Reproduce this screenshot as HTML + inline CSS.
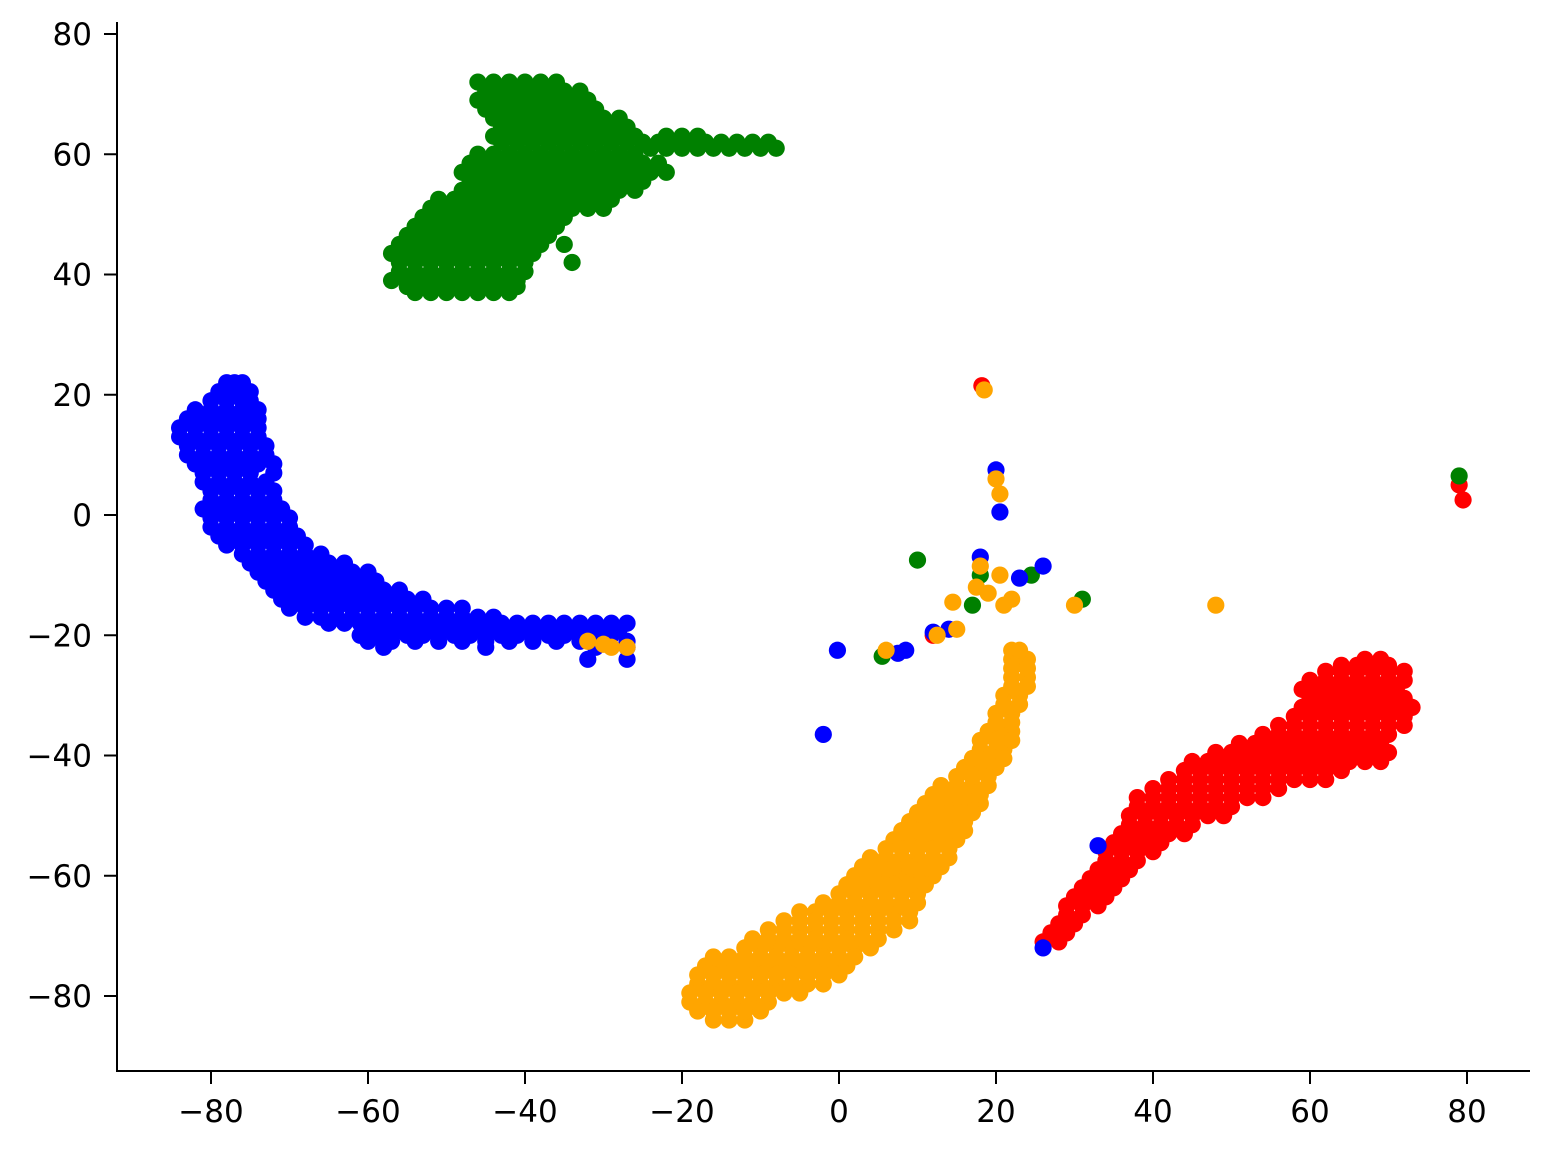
<!DOCTYPE html>
<html><head><meta charset="utf-8"><style>
html,body{margin:0;padding:0;background:#fff;}
svg text{font-family:"DejaVu Sans","Liberation Sans",sans-serif;font-size:31px;fill:#000;}
</style></head><body>
<svg id="chart" width="1550" height="1149" xmlns="http://www.w3.org/2000/svg">
<g id="marks"></g>
<g id="axes"></g>
</svg>
<script>
const xTicks=[-80,-60,-40,-20,0,20,40,60,80];
const yTicks=[-80,-60,-40,-20,0,20,40,60,80];
const redRows=[[-71,[26,28]],[-68,[28,30]],[-65,[29,31,33]],[-62,[31,33,35]],[-59,[33,35,37]],[-56,[34,36,38,40]],[-53,[36,38,40,42,44]],[-50,[37,39,41,43,45,47,49]],[-47,[38,40,42,44,46,48,50,52,54]],[-44,[42,44,46,48,50,52,54,56,58,60,62]],[-41,[45,47,49,51,53,55,57,59,61,63,65,67,69]],[-38,[51,53,55,57,59,61,63,65,67,69]],[-35,[56,58,60,62,64,66,68,70,72]],[-32,[59,61,63,65,67,69,71,73]],[-29,[59,61,63,65,67,69,71]],[-26,[62,64,66,68,70,72]],[-24,[67,69]],
[-69.5,[27,29]],[-66.5,[29,31]],[-63.5,[30,32,34]],[-60.5,[32,34,36]],[-57.5,[34,36,38]],[-54.5,[35,37,39,41]],[-51.5,[37,39,41,43,45]],[-48.5,[38,40,42,44,46,48,50]],[-45.5,[40,42,44,46,48,50,52,54,56]],[-42.5,[44,46,48,50,52,54,56,58,60,62,64]],[-39.5,[48,50,52,54,56,58,60,62,64,66,68,70]],[-36.5,[54,56,58,60,62,64,66,68,70]],[-33.5,[58,60,62,64,66,68,70,72]],[-30.5,[60,62,64,66,68,70,72]],[-27.5,[60,62,64,66,68,70,72]],[-25,[64,66,68,70]]];
const greenRows=[[72,[-46,-44,-42,-40,-38,-36]],[69,[-46,-44,-42,-40,-38,-36,-34,-32]],[66,[-44,-42,-40,-38,-36,-34,-32,-30,-28]],[63,[-44,-42,-40,-38,-36,-34,-32,-30,-28,-26,-22,-20,-18]],[61,[-24,-22,-20,-18,-16,-14,-12,-10,-8]],[60,[-46,-44,-42,-40,-38,-36,-34,-32,-30,-28,-26]],[57,[-48,-46,-44,-42,-40,-38,-36,-34,-32,-30,-28,-26,-24,-22]],[54,[-48,-46,-44,-42,-40,-38,-36,-34,-32,-30,-28,-26]],[51,[-52,-50,-48,-46,-44,-42,-40,-38,-36,-34,-32,-30]],[48,[-54,-52,-50,-48,-46,-44,-42,-40,-38,-36]],[45,[-56,-54,-52,-50,-48,-46,-44,-42,-40,-38,-35]],[42,[-56,-54,-52,-50,-48,-46,-44,-42,-40,-34]],[39,[-57,-55,-53,-51,-49,-47,-45,-43,-41]],[37,[-54,-52,-50,-48,-46,-44,-42]],
[70.5,[-45,-43,-41,-39,-37,-35,-33]],[67.5,[-45,-43,-41,-39,-37,-35,-33,-31]],[64.5,[-43,-41,-39,-37,-35,-33,-31,-29,-27]],[62,[-43,-41,-39,-37,-35,-33,-31,-29,-27,-25,-23,-21,-19,-17,-15,-13,-11,-9]],[58.5,[-47,-45,-43,-41,-39,-37,-35,-33,-31,-29,-27,-25,-23]],[55.5,[-47,-45,-43,-41,-39,-37,-35,-33,-31,-29,-27,-25]],[52.5,[-51,-49,-47,-45,-43,-41,-39,-37,-35,-33,-31,-29]],[49.5,[-53,-51,-49,-47,-45,-43,-41,-39,-37,-35]],[46.5,[-55,-53,-51,-49,-47,-45,-43,-41,-39,-37]],[43.5,[-57,-55,-53,-51,-49,-47,-45,-43,-41,-39]],[40.5,[-56,-54,-52,-50,-48,-46,-44,-42,-40]],[38,[-55,-53,-51,-49,-47,-45,-43,-41]]];
const blueRows=[[22,[-78,-77,-76]],[19,[-80,-78,-76,-75]],[16,[-83,-81,-79,-77,-75,-74]],[13,[-84,-82,-80,-78,-76,-74]],[10,[-83,-81,-79,-77,-75,-73]],[7,[-81,-79,-77,-75,-72]],[4,[-80,-78,-76,-74,-72]],[1,[-81,-79,-77,-75,-73,-71]],[-2,[-80,-78,-76,-74,-72,-70]],[-5,[-78,-76,-74,-72,-70,-68]],[-8,[-75,-73,-71,-69,-67,-65,-63]],[-11,[-73,-71,-69,-67,-65,-63,-61,-59]],[-14,[-71,-69,-67,-65,-63,-61,-59,-57,-55,-53]],[-17,[-68,-66,-64,-62,-60,-58,-56,-54,-52,-50,-48,-46,-44]],[-19,[-60,-58,-56,-54,-52,-50,-48,-46,-44,-42,-40,-38,-36,-34,-32,-30,-28]],[-21,[-60,-57,-54,-51,-48,-45,-42,-39,-36,-33,-30,-27]],[-22,[-58,-45,-31,-27]],
[20.5,[-79,-77,-75]],[17.5,[-82,-80,-78,-76,-74]],[14.5,[-84,-82,-80,-78,-76,-74]],[11.5,[-83,-81,-79,-77,-75,-73]],[8.5,[-82,-80,-78,-76,-74,-72]],[5.5,[-81,-79,-77,-75,-73]],[2.5,[-80,-78,-76,-74,-72]],[-0.5,[-80,-78,-76,-74,-72,-70]],[-3.5,[-79,-77,-75,-73,-71,-69]],[-6.5,[-76,-74,-72,-70,-68,-66]],[-9.5,[-74,-72,-70,-68,-66,-64,-62,-60]],[-12.5,[-72,-70,-68,-66,-64,-62,-60,-58,-56]],[-15.5,[-70,-68,-66,-64,-62,-60,-58,-56,-54,-52,-50,-48]],[-18,[-65,-63,-61,-59,-57,-55,-53,-51,-49,-47,-45,-43,-41,-39,-37,-35,-33,-31,-29,-27]],[-20,[-61,-59,-57,-55,-53,-51,-49,-47,-45,-43,-41,-39,-37,-35,-33,-31,-29]]];
const orangeRows=[[-84,[-16,-14,-12]],[-81,[-19,-17,-15,-13,-11,-9]],[-78,[-18,-16,-14,-12,-10,-8,-6,-4,-2]],[-75,[-17,-15,-13,-11,-9,-7,-5,-3,-1,1]],[-72,[-12,-10,-8,-6,-4,-2,0,2,4]],[-69,[-9,-7,-5,-3,-1,1,3,5,7]],[-66,[-5,-3,-1,1,3,5,7,9]],[-63,[0,2,4,6,8,10]],[-60,[2,4,6,8,10,12]],[-57,[4,6,8,10,12,14]],[-54,[7,9,11,13,15]],[-51,[9,11,13,15,16]],[-48,[11,13,15,17,18]],[-45,[13,15,17,19]],[-42,[16,18,20]],[-39,[18,20,21]],[-36,[19,21,22]],[-33,[20,22]],[-30,[21,23]],[-27,[22,24]],[-24,[22,23,24]],
[-82.5,[-18,-16,-14,-12,-10]],[-79.5,[-19,-17,-15,-13,-11,-9,-7,-5]],[-76.5,[-18,-16,-14,-12,-10,-8,-6,-4,-2,0]],[-73.5,[-16,-14,-12,-10,-8,-6,-4,-2,0,2]],[-70.5,[-11,-9,-7,-5,-3,-1,1,3,5]],[-67.5,[-7,-5,-3,-1,1,3,5,7,9]],[-64.5,[-2,0,2,4,6,8,10]],[-61.5,[1,3,5,7,9,11]],[-58.5,[3,5,7,9,11,13]],[-55.5,[6,8,10,12,14]],[-52.5,[8,10,12,14,16]],[-49.5,[10,12,14,16,17]],[-46.5,[12,14,16,18]],[-43.5,[15,17,19]],[-40.5,[17,19,21]],[-37.5,[18,20,22]],[-34.5,[20,22]],[-31.5,[21,23]],[-28.5,[22,24]],[-25.5,[22,24]],[-22.5,[22,23]]];
const redOut=[[18.2,21.5],[79,5],[79.5,2.5],[12,-20]];
const greenOut=[[10,-7.5],[18,-10],[17,-15],[24.5,-10],[31,-14],[5.5,-23.5],[79,6.5]];
const blueOut=[[20,7.5],[20.5,0.5],[18,-7],[26,-8.5],[23,-10.5],[12,-19.5],[14,-19],[-0.2,-22.5],[8.5,-22.5],[7.5,-23],[-2,-36.5],[33,-55],[26,-72],[-32,-24],[-27,-24]];
const orangeOut=[[18.5,20.8],[20,6],[20.5,3.5],[18,-8.5],[17.5,-12],[19,-13],[20.5,-10],[21,-15],[22,-14],[15,-19],[14.5,-14.5],[12.5,-20],[30,-15],[48,-15],[6,-22.5],[-32,-21],[-29,-22],[-27,-22],[-30,-21.5]];

const NS='http://www.w3.org/2000/svg';
const xS=v=>839+v*7.85;
const yS=v=>515-v*6.0125;
const marks=document.getElementById('marks');
const axes=document.getElementById('axes');
function dot(x,y,c,name){
  const e=document.createElementNS(NS,'circle');
  e.setAttribute('cx',xS(x));e.setAttribute('cy',yS(y));e.setAttribute('r',8.6);e.setAttribute('fill',c);
  
  
  marks.appendChild(e);
}
function series(rows,out,c,name){
  rows.forEach(r=>r[1].forEach(x=>dot(x,r[0],c,name)));
  out.forEach(p=>dot(p[0],p[1],c,name));
}
series(redRows,redOut,'#ff0000','red-point');
series(greenRows,greenOut,'#008000','green-point');
series(blueRows,blueOut,'#0000ff','blue-point');
series(orangeRows,orangeOut,'#ffa500','orange-point');

function line(x1,y1,x2,y2,name){
  const l=document.createElementNS(NS,'line');
  l.setAttribute('x1',x1);l.setAttribute('y1',y1);l.setAttribute('x2',x2);l.setAttribute('y2',y2);
  l.setAttribute('stroke','#000');l.setAttribute('stroke-width',2);
  
  
  axes.appendChild(l);
}
function text(x,y,s,anchor,name){
  const t=document.createElementNS(NS,'text');
  t.setAttribute('x',x);t.setAttribute('y',y);t.setAttribute('text-anchor',anchor);
  t.textContent=s;
  
  
  axes.appendChild(t);
}
line(117,22,117,1071,'y-axis-spine');
line(116,1071,1530,1071,'x-axis-spine');
const fmt=v=>v<0?'\u2212'+Math.abs(v):String(v);
xTicks.forEach(v=>{line(xS(v),1071,xS(v),1084,'x-tick');text(xS(v),1122,fmt(v),'middle','x-tick-label');});
yTicks.forEach(v=>{line(104,yS(v),117,yS(v),'y-tick');text(92,yS(v)+11,fmt(v),'end','y-tick-label');});
</script>
</body></html>
